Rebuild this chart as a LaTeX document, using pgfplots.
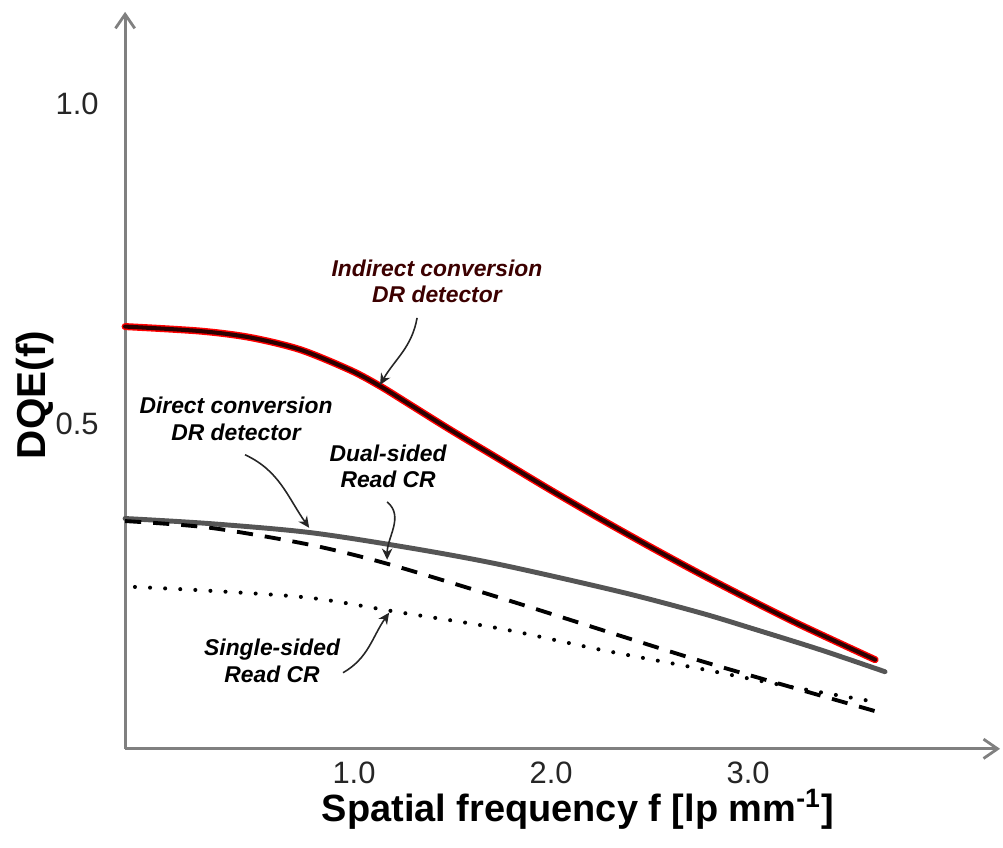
\documentclass[border=0pt]{standalone}
\usepackage{fontspec}
\setmainfont{Liberation Sans}
\usepackage{pgfplots}
\pgfplotsset{compat=1.18}
\usetikzlibrary{arrows.meta}
\definecolor{axgray}{RGB}{128,128,128}
\definecolor{curvgray}{RGB}{85,85,85}
\definecolor{darkcore}{RGB}{45,0,0}
\definecolor{labred}{RGB}{60,0,0}

\begin{document}
\begin{tikzpicture}
\begin{axis}[
  scale only axis, width=87.5mm, height=73.7mm,
  xmin=-0.162, xmax=4.279, ymin=-0.008, ymax=1.144,
  axis lines=left,
  axis line style={draw=axgray, line width=0.8pt},
  x axis line style={-{Straight Barb[length=4pt,width=5.5pt]}},
  y axis line style={-{Straight Barb[length=4pt,width=5.5pt]}},
  xtick={1,2,3}, xticklabels={1.0,2.0,3.0},
  ytick={0.5,1}, yticklabels={0.5,1.0},
  major tick length=0pt,
  tick label style={font=\fontsize{8.8}{10}\selectfont, text=black!85},
  /pgf/number format/assume math mode=true,
  yticklabel style={xshift=-4pt},
  xticklabel style={inner sep=0pt, yshift=-3.6pt},
  xlabel={Spatial frequency f [lp mm\textsuperscript{-1}]},
  ylabel={DQE(f)},
  xlabel style={font=\bfseries\fontsize{10.8}{12}\selectfont, inner sep=0pt,
                at={(axis cs:2.137,-0.103)}, anchor=center},
  ylabel style={font=\bfseries\fontsize{11.5}{13}\selectfont,
                at={(axis cs:-0.619,0.545)}, anchor=center},
  clip=false,
]
  \path (axis cs:-0.797,-0.1625) rectangle (axis cs:4.294,1.1625);

  %% indirect conversion DR (red halo, dark core)
  \pgfplotsset{redcurve/.style={smooth, tension=0.5, line cap=round}}
  \addplot[red, line width=2pt, redcurve] coordinates {
    (-0.162,0.652)(0.218,0.645)(0.472,0.635)(0.726,0.616)(0.980,0.584)
    (1.132,0.559)(1.284,0.530)(1.487,0.491)(1.741,0.444)(1.995,0.397)
    (2.249,0.3516)(2.503,0.3078)(2.756,0.2656)(3.010,0.225)(3.264,0.1859)(3.645,0.1313)
  };
  \addplot[darkcore, line width=1.15pt, redcurve] coordinates {
    (-0.162,0.652)(0.218,0.645)(0.472,0.635)(0.726,0.616)(0.980,0.584)
    (1.132,0.559)(1.284,0.530)(1.487,0.491)(1.741,0.444)(1.995,0.397)
    (2.249,0.3516)(2.503,0.3078)(2.756,0.2656)(3.010,0.225)(3.264,0.1859)(3.645,0.1313)
  };
  %% direct conversion DR
  \addplot[curvgray, line width=1.4pt, line cap=round, smooth, tension=0.5] coordinates {
    (-0.162,0.352)(0.269,0.344)(0.777,0.330)(1.284,0.306)(1.741,0.280)
    (2.350,0.2375)(2.756,0.2047)(3.025,0.1797)(3.365,0.147)(3.695,0.1125)
  };
  %% dual-sided read CR
  \addplot[black, line width=1.1pt, dash pattern=on 4.6pt off 3.4pt, smooth, tension=0.5] coordinates {
    (-0.162,0.348)(0.269,0.3375)(0.777,0.3109)(1.168,0.2813)
    (1.741,0.2281)(2.350,0.1688)(2.756,0.1297)(3.264,0.0844)(3.655,0.050)
  };
  %% single-sided read CR
  \addplot[black, line width=1.15pt, line cap=round, dash pattern=on 0pt off 4.3pt, smooth, tension=0.5] coordinates {
    (-0.112,0.245)(0.269,0.239)(0.777,0.228)(1.218,0.206)(1.741,0.180)
    (2.249,0.147)(2.756,0.1172)(3.213,0.0891)(3.670,0.0641)
  };

  %% annotations
  \tikzset{lab/.style={font=\bfseries\itshape\fontsize{6.5}{7.5}\selectfont, align=center, inner sep=0pt},
           ann/.style={black!85, line width=0.45pt, -{Stealth[length=3.2pt,width=3pt]}}}
  \node[lab, text=labred] at (axis cs:1.421,0.7227) {Indirect conversion\\DR detector};
  \node[lab] at (axis cs:0.401,0.508) {Direct conversion\\DR detector};
  \node[lab] at (axis cs:1.173,0.4336) {Dual-sided\\Read CR};
  \node[lab] at (axis cs:0.584,0.1297) {Single-sided\\Read CR};
  \draw[ann] (axis cs:1.320,0.6656) to[out=-100, in=60] (axis cs:1.132,0.5609);
  \draw[ann] (axis cs:0.447,0.4516) to[out=-25, in=125] (axis cs:0.772,0.3375);
  \draw[ann] (axis cs:1.168,0.378) to[out=-40, in=90] (axis cs:1.168,0.2875);
  \draw[ann] (axis cs:0.944,0.1109) to[out=30, in=235] (axis cs:1.178,0.2047);
\end{axis}
\end{tikzpicture}
\end{document}
